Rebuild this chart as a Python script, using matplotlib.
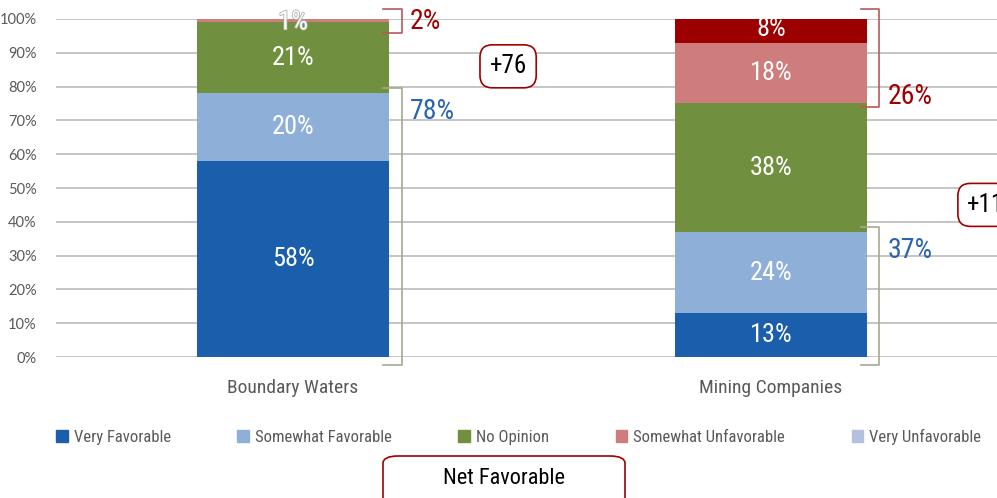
import matplotlib
matplotlib.use('Agg')
import matplotlib.pyplot as plt
from matplotlib import font_manager
from matplotlib.patches import Rectangle, FancyBboxPatch
import matplotlib.patheffects as pe

# survey data (percent)
categories = ['Boundary Waters', 'Mining Companies']
very_favorable = [58, 13]
somewhat_favorable = [20, 24]
no_opinion = [21, 38]
somewhat_unfavorable = [1, 18]
very_unfavorable = [1, 8]
segment_labels = [['58%', '20%', '21%', '', '1%'],
                  ['13%', '24%', '38%', '18%', '8%']]
series_names = ['Very Favorable', 'Somewhat Favorable', 'No Opinion',
                'Somewhat Unfavorable', 'Very Unfavorable']
y_ticks = [0, 10, 20, 30, 40, 50, 60, 70, 80, 90, 100]

# pick a condensed font if one is installed
available = {f.name for f in font_manager.fontManager.ttflist}
narrow = 'Liberation Sans'
for name in ['Liberation Sans Narrow', 'DejaVu Sans Condensed', 'Roboto Condensed']:
    if name in available:
        narrow = name
        break

colors = ['#1b5eab', '#8eb0d8', '#70903f', '#cf7c7c', '#b4c0de']
vu_bar_colors = ['#b4c0de', '#9c0000']
fav_color = '#2a64b0'
unfav_color = '#a00000'
bracket_fav = '#a3aa8f'
bracket_unfav = '#b55a5a'

fig = plt.figure(figsize=(9.97, 4.98), dpi=100)
ax = fig.add_axes([56 / 997, 1 - 357 / 498, 1 - 56 / 997, (357 - 19) / 498])

x = [0, 1]
width = 0.4
series = [very_favorable, somewhat_favorable, no_opinion,
          somewhat_unfavorable, very_unfavorable]
bottom = [0, 0]
for i, vals in enumerate(series):
    col = vu_bar_colors if i == 4 else colors[i]
    bars = ax.bar(x, vals, width, bottom=bottom, color=col, zorder=3)
    for j, b in enumerate(bars):
        lab = segment_labels[j][i]
        if not lab:
            continue
        yc = bottom[j] + vals[j] / 2
        if vals[j] < 3:
            # tiny segment: label sits on the bar top
            ax.text(x[j], 99, lab, ha='center', va='center', color='white',
                    fontsize=19, family=narrow, zorder=5,
                    path_effects=[pe.withStroke(linewidth=1.2, foreground='#b0b0b0')])
        else:
            ax.text(x[j], yc, lab, ha='center', va='center', color='white',
                    fontsize=19, family=narrow, zorder=5)
    bottom = [bottom[k] + vals[k] for k in range(2)]

# brackets and totals
for j in range(2):
    fav = very_favorable[j] + somewhat_favorable[j]
    unfav = somewhat_unfavorable[j] + very_unfavorable[j]
    edge = x[j] + width / 2
    bx = edge + 0.027
    # favorable bracket
    fy0, fy1 = -2.5, fav + 1.5
    ax.plot([edge - 0.012, bx, bx, edge - 0.012], [fy1, fy1, fy0, fy0],
            color=bracket_fav, lw=1.2, clip_on=False, zorder=4)
    ax.text(edge + 0.045, fav - 1.5, f'{fav}%', ha='left', va='top',
            color=fav_color, fontsize=20, family=narrow, clip_on=False)
    # unfavorable bracket
    uy0, uy1 = min(100 - unfav, 96), 103
    ax.plot([edge - 0.012, bx, bx, edge - 0.012], [uy1, uy1, uy0, uy0],
            color=bracket_unfav, lw=1.2, clip_on=False, zorder=4)
    ax.text(edge + 0.045, uy0 - 0.8, f'{unfav}%', ha='left', va='bottom',
            color=unfav_color, fontsize=20, family=narrow, clip_on=False)
    # net favorable box
    ax.text(x[j] + 0.45, fav + 8, f'+{fav - unfav}', ha='center', va='center',
            color='black', fontsize=18, family=narrow, clip_on=False, zorder=6,
            bbox=dict(boxstyle='round,pad=0.38,rounding_size=0.5',
                      fc='white', ec=unfav_color, lw=1.2))

ax.set_ylim(0, 100)
ax.set_xlim(-0.496, 1.473)
ax.set_yticks(y_ticks)
ax.set_yticklabels([f'{t}%' for t in y_ticks], family='Lato', fontsize=10.5,
                   color='#595959')
ax.set_xticks(x)
ax.set_xticklabels(categories, family=narrow, fontsize=14, color='#595959')
ax.tick_params(axis='both', length=0)
ax.tick_params(axis='x', pad=15.5)
ax.tick_params(axis='y', pad=14)
ax.grid(axis='y', color='#c0c0c0', lw=1.3, zorder=0)
for s in ax.spines.values():
    s.set_visible(False)

# legend
handles = [Rectangle((0, 0), 1, 1, color=c) for c in colors]
fig.legend(handles, series_names, loc='center left',
           bbox_to_anchor=(56 / 997, 1 - 437 / 498), ncol=5, frameon=False,
           prop={'family': narrow, 'size': 12}, labelcolor='#595959',
           handlelength=0.7, handleheight=0.7, handletextpad=0.35,
           columnspacing=4.0, borderpad=0, borderaxespad=0)

# net favorable key box
fig.patches.append(FancyBboxPatch((383 / 997, -0.05), 242 / 997, 0.05 + 42 / 498,
                                  boxstyle='round,pad=0,rounding_size=0.015',
                                  transform=fig.transFigure, fc='white',
                                  ec=unfav_color, lw=1.2))
fig.text(504 / 997, 1 - 478 / 498, 'Net Favorable', ha='center', va='center',
         fontsize=16, family=narrow, color='black')

fig.savefig('out.png', dpi=100)
